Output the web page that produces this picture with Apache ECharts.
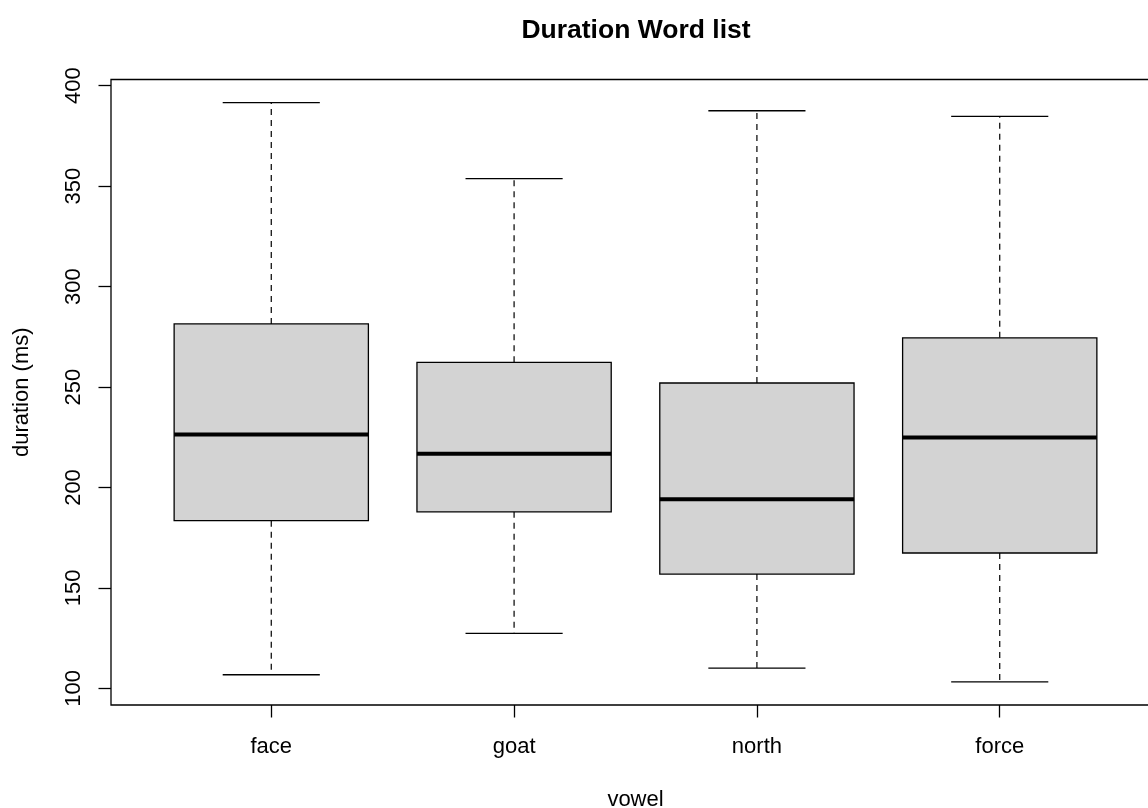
<!DOCTYPE html>
<html>
<head>
<meta charset="utf-8">
<script src="https://cdn.jsdelivr.net/npm/echarts@6/dist/echarts.min.js"></script>
<style>
html,body{margin:0;padding:0;background:#fff;}
#chart{width:1148px;height:808px;}
</style>
</head>
<body>
<div id="chart"></div>
<script>
// Data
var categories = ['face', 'goat', 'north', 'force'];
var lowerWhisker = [106.8, 127.4, 110.1, 103.3];
var q1 = [183.5, 187.9, 156.9, 167.4];
var median = [226.4, 216.8, 194.1, 224.9];
var q3 = [281.4, 262.3, 252.0, 274.5];
var upperWhisker = [391.5, 353.7, 387.5, 384.7];
var yTicks = [100, 150, 200, 250, 300, 350, 400];
var xTicks = [1, 2, 3, 4];

var FONT = '"Liberation Sans", Arial, sans-serif';

var boxData = categories.map(function (c, i) {
  return [i + 1, lowerWhisker[i], q1[i], median[i], q3[i], upperWhisker[i]];
});

var chart = echarts.init(document.getElementById('chart'), null, {renderer: 'canvas'});

function renderItem(params, api) {
  var x = api.value(0);
  var pLo = api.coord([x, api.value(1)]);
  var pQ1 = api.coord([x, api.value(2)]);
  var pMed = api.coord([x, api.value(3)]);
  var pQ3 = api.coord([x, api.value(4)]);
  var pHi = api.coord([x, api.value(5)]);
  var halfBox = api.size([0.4, 0])[0];
  var halfCap = api.size([0.2, 0])[0];
  var cx = pMed[0];
  var lineCol = '#000';
  return {
    type: 'group',
    children: [
      {type: 'line', shape: {x1: cx, y1: pQ3[1], x2: cx, y2: pHi[1]},
       style: {stroke: lineCol, lineWidth: 1.2, lineDash: [6, 5]}},
      {type: 'line', shape: {x1: cx, y1: pQ1[1], x2: cx, y2: pLo[1]},
       style: {stroke: lineCol, lineWidth: 1.2, lineDash: [6, 5]}},
      {type: 'line', shape: {x1: cx - halfCap, y1: pHi[1], x2: cx + halfCap, y2: pHi[1]},
       style: {stroke: lineCol, lineWidth: 1.4}},
      {type: 'line', shape: {x1: cx - halfCap, y1: pLo[1], x2: cx + halfCap, y2: pLo[1]},
       style: {stroke: lineCol, lineWidth: 1.4}},
      {type: 'rect', shape: {x: cx - halfBox, y: pQ3[1], width: 2 * halfBox, height: pQ1[1] - pQ3[1]},
       style: {fill: '#D3D3D3', stroke: lineCol, lineWidth: 1.3}},
      {type: 'line', shape: {x1: cx - halfBox, y1: pMed[1], x2: cx + halfBox, y2: pMed[1]},
       style: {stroke: lineCol, lineWidth: 4}}
    ]
  };
}

var option = {
  backgroundColor: '#fff',
  animation: false,
  title: {
    text: 'Duration Word list',
    left: 631,
    top: 12,
    textAlign: 'center',
    textStyle: {fontFamily: FONT, fontSize: 26.5, fontWeight: 'bold', color: '#000'}
  },
  grid: {
    left: 111, top: 79.5, width: 1049, height: 625.5,
    outerBoundsMode: 'none',
    show: true, borderColor: '#000', borderWidth: 1.3, backgroundColor: 'transparent',
    containLabel: false
  },
  xAxis: {
    type: 'value',
    min: 0.34, max: 4.66,
    name: 'vowel',
    nameLocation: 'middle',
    nameGap: 84,
    nameTextStyle: {fontFamily: FONT, fontSize: 22, color: '#000'},
    axisLine: {show: false},
    splitLine: {show: false},
    axisTick: {show: true, length: 12.5, customValues: xTicks, lineStyle: {color: '#000', width: 1.3}},
    axisLabel: {
      customValues: xTicks, margin: 31,
      fontFamily: FONT, fontSize: 22, color: '#000',
      formatter: function (v) { return categories[Math.round(v) - 1] || ''; }
    }
  },
  yAxis: {
    type: 'value',
    min: 91.77, max: 403.03,
    name: 'duration (ms)',
    nameLocation: 'middle',
    nameGap: 78,
    nameTextStyle: {fontFamily: FONT, fontSize: 22, color: '#000'},
    axisLine: {show: false},
    splitLine: {show: false},
    axisTick: {show: true, length: 12.5, customValues: yTicks, lineStyle: {color: '#000', width: 1.3}},
    axisLabel: {
      customValues: yTicks, margin: 26, rotate: 90,
      fontFamily: FONT, fontSize: 22, color: '#000'
    }
  },
  series: [{
    type: 'custom',
    renderItem: renderItem,
    encode: {x: 0, y: [1, 2, 3, 4, 5]},
    data: boxData,
    clip: false
  }]
};
chart.setOption(option);
</script>
</body>
</html>
